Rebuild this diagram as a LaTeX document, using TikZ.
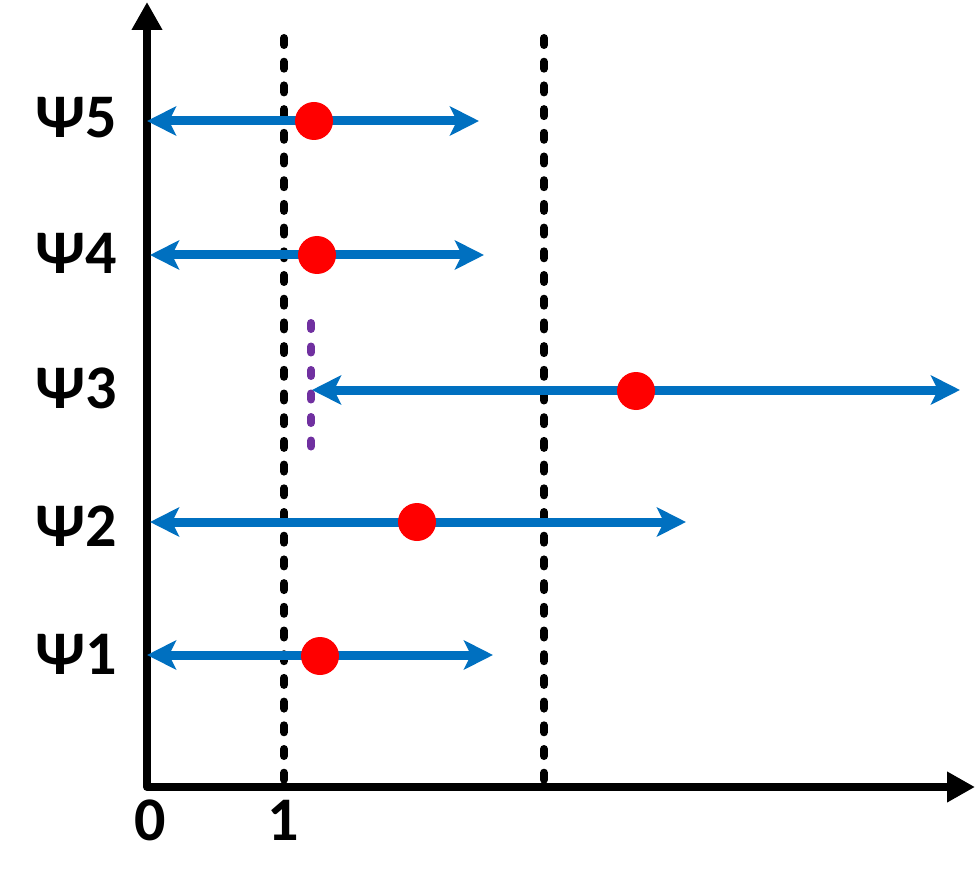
\documentclass[tikz,border=0pt]{standalone}
\usepackage{fontspec}
\setmainfont{Carlito}
\usetikzlibrary{arrows.meta}
\definecolor{axblue}{HTML}{0070C0}
\definecolor{mypurple}{HTML}{7030A0}
\tikzset{
  axisline/.style={line width=8pt, line join=round, line cap=round},
  guide/.style={line width=8pt, line cap=round, dash pattern=on 7pt off 16.7pt},
  pguide/.style={line width=8pt, line cap=round, dash pattern=on 6pt off 17.5pt, mypurple},
  psirange/.style={line width=9pt, axblue, {Stealth[length=29pt,width=29pt,inset=7pt]}-{Stealth[length=29pt,width=29pt,inset=7pt]}},
  dot/.style={circle, fill=red, minimum size=38pt, inner sep=0pt},
  lbl/.style={font=\fontsize{62}{62}\selectfont\bfseries, inner sep=0pt},
}
\begin{document}
\begin{tikzpicture}[x=1pt,y=-1pt]
\useasboundingbox (0,0) rectangle (976,890);
% axes
\coordinate (top) at (147,2);
\coordinate (origin) at (147,787);
\coordinate (right) at (975,787);
\draw[axisline, {Triangle[length=28pt,width=29pt]}-{Triangle[length=28pt,width=29pt]}] (top) -- (origin) -- (right);
% guides
\coordinate (g1a) at (284,38); \coordinate (g1b) at (284,787);
\coordinate (g2a) at (544,38); \coordinate (g2b) at (544,787);
\draw[guide] (g1a) -- (g1b);
\draw[guide] (g2a) -- (g2b);
\coordinate (pa) at (311,323); \coordinate (pb) at (311,452);
\draw[pguide] (pa) -- (pb);
% ranges
\coordinate (l5) at (147,121); \coordinate (r5) at (479,121);
\coordinate (l4) at (150,255); \coordinate (r4) at (484,255);
\coordinate (l3) at (312,390); \coordinate (r3) at (960,390);
\coordinate (l2) at (150,522); \coordinate (r2) at (686,522);
\coordinate (l1) at (147,655); \coordinate (r1) at (493,655);
\draw[psirange] (l5) -- (r5);
\draw[psirange] (l4) -- (r4);
\draw[psirange] (l3) -- (r3);
\draw[psirange] (l2) -- (r2);
\draw[psirange] (l1) -- (r1);
% dots
\node[dot] (d5) at (314,121) {};
\node[dot] (d4) at (317,255) {};
\node[dot] (d3) at (636,391) {};
\node[dot] (d2) at (417,522) {};
\node[dot] (d1) at (320,656) {};
% labels
\node[lbl, anchor=east] (p5) at (117,118) {Ψ5};
\node[lbl, anchor=east] (p4) at (117,253) {Ψ4};
\node[lbl, anchor=east] (p3) at (117,388) {Ψ3};
\node[lbl, anchor=east] (p2) at (117,526) {Ψ2};
\node[lbl, anchor=east] (p1) at (117,654) {Ψ1};
\node[lbl] (t0) at (150,820) {0};
\node[lbl] (t1) at (283,820) {1};
\end{tikzpicture}
\end{document}
